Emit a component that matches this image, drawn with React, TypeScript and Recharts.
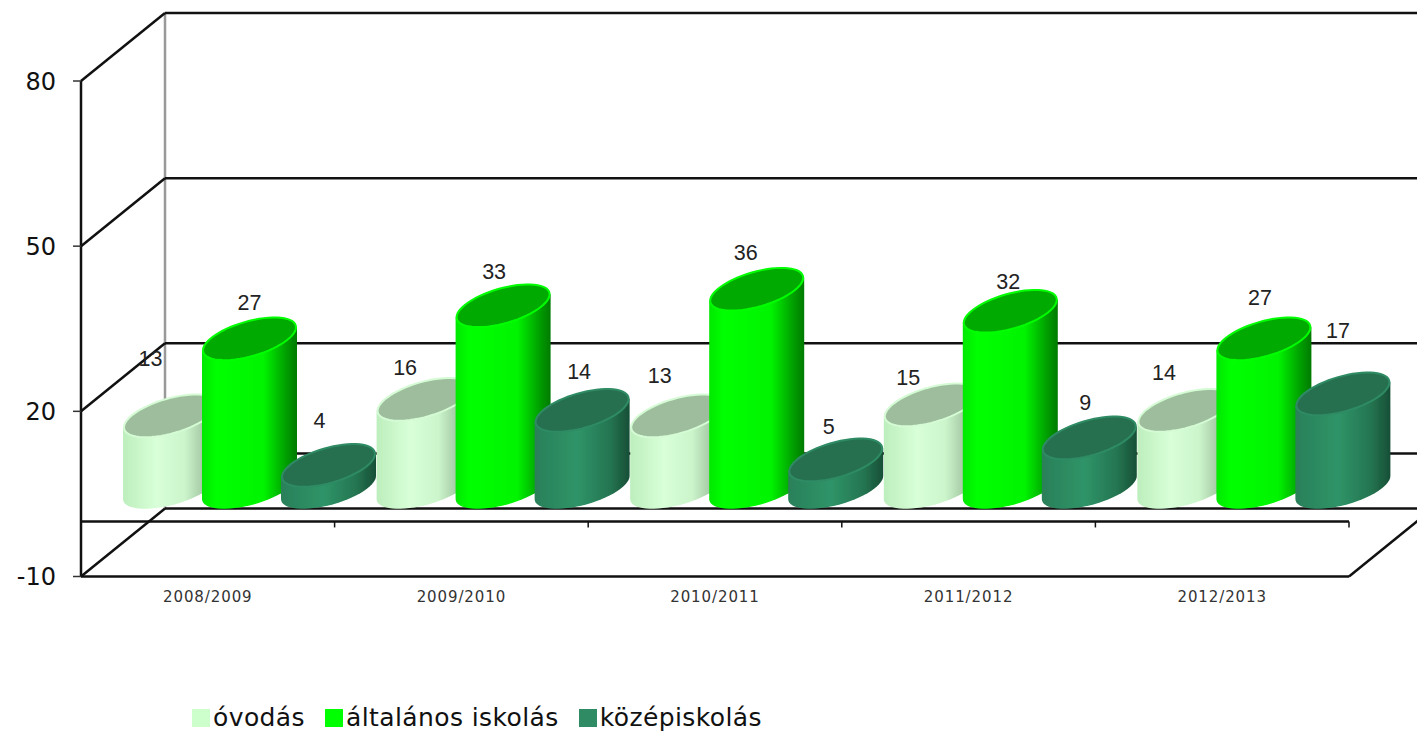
import { BarChart, Bar, XAxis, YAxis, Legend, LabelList, usePlotArea } from "recharts"

const years = ["2008/2009", "2009/2010", "2010/2011", "2011/2012", "2012/2013"]
const ovodas = [13, 16, 13, 15, 14]
const altalanos = [27, 33, 36, 32, 27]
const kozep = [4, 14, 5, 9, 17]
const yDomain = [-10, 80]
const yTicks = [-10, 20, 50, 80]

const data = years.map((year, i) => ({
  year,
  ovodas: ovodas[i],
  altalanos: altalanos[i],
  kozep: kozep[i],
}))

// the labels were dragged by hand in the original, so each one has its own nudge
const ovodasNudge = [[-20, -56], [-19, -30], [-18, -39], [-23, -26], [-21, -36]]
const altalanosNudge = [[0, -34], [-9, -32], [-11, -35], [-2, -28], [-4, -39]]
const kozepNudge = [[-9, -43], [-3, -37], [-7, -32], [-4, -34], [-5, -62]]

const DEPTH_X = 84
const DEPTH_Y = 68
const BAR_DX = 42
const BAR_DY = -34
const SKEW = -11.5
const MINOR = 18

function ellipsePath(cx: number, cy: number, a: number) {
  const pts = []
  for (let i = 0; i < 60; i++) {
    const t = (i / 60) * Math.PI * 2
    pts.push(`${cx + a * Math.cos(t)},${cy + SKEW * Math.cos(t) + MINOR * Math.sin(t)}`)
  }
  return "M" + pts.join("L") + "Z"
}

function bodyPath(cx: number, top: number, bottom: number, a: number) {
  const pts = [`${cx - a},${top - SKEW}`]
  for (let i = 0; i <= 30; i++) {
    const t = Math.PI - (i / 30) * Math.PI
    pts.push(`${cx + a * Math.cos(t)},${bottom + SKEW * Math.cos(t) + MINOR * Math.sin(t)}`)
  }
  pts.push(`${cx + a},${top + SKEW}`)
  return "M" + pts.join("L") + "Z"
}

function Cylinder({ x, y, width, height, grad, cap, rim }: any) {
  const cx = x + width / 2 + BAR_DX
  const top = y + BAR_DY
  const bottom = y + height + BAR_DY
  const a = width / 2
  return (
    <g filter="url(#soft)">
      <path d={bodyPath(cx, top, bottom, a)} fill={`url(#${grad})`} />
      <path d={ellipsePath(cx, top, a - 1)} fill={cap} stroke={rim} strokeWidth={2} />
    </g>
  )
}

function Frame() {
  const plot = usePlotArea()
  if (!plot) return null
  const left = plot.x
  const right = plot.x + plot.width
  const yOf = (v: number) =>
    plot.y + plot.height - ((v - yDomain[0]) / (yDomain[1] - yDomain[0])) * plot.height
  const backX = left + DEPTH_X
  const line = { stroke: "#111", strokeWidth: 2.5 }
  const step = plot.width / years.length
  return (
    <g>
      <defs>
        <filter id="soft" x="-5%" y="-5%" width="110%" height="110%">
          <feGaussianBlur stdDeviation="0.6" />
        </filter>
        <linearGradient id="gradLight" x1="0" x2="1" y1="0" y2="0">
          <stop offset="0" stopColor="#bdeebd" />
          <stop offset="0.35" stopColor="#d8ffd8" />
          <stop offset="0.65" stopColor="#ccf5cc" />
          <stop offset="0.85" stopColor="#a4c8a4" />
          <stop offset="1" stopColor="#8fb08f" />
        </linearGradient>
        <linearGradient id="gradGreen" x1="0" x2="1" y1="0" y2="0">
          <stop offset="0" stopColor="#00e800" />
          <stop offset="0.15" stopColor="#00ff00" />
          <stop offset="0.65" stopColor="#00f400" />
          <stop offset="0.88" stopColor="#00a000" />
          <stop offset="1" stopColor="#007a00" />
        </linearGradient>
        <linearGradient id="gradDark" x1="0" x2="1" y1="0" y2="0">
          <stop offset="0" stopColor="#2a8059" />
          <stop offset="0.45" stopColor="#2f9468" />
          <stop offset="0.8" stopColor="#247450" />
          <stop offset="1" stopColor="#174f36" />
        </linearGradient>
      </defs>
      {/* back wall and the diagonals to the front */}
      <line x1={backX} x2={backX} y1={yOf(80) - DEPTH_Y} y2={yOf(-10) - DEPTH_Y} stroke="#999" strokeWidth={2.5} />
      {yTicks.map((t) => (
        <g key={t}>
          <line x1={backX} x2={1417} y1={yOf(t) - DEPTH_Y} y2={yOf(t) - DEPTH_Y} {...line} />
          <line x1={left} x2={backX} y1={yOf(t)} y2={yOf(t) - DEPTH_Y} {...line} />
        </g>
      ))}
      <line x1={backX} x2={1417} y1={yOf(0) - DEPTH_Y} y2={yOf(0) - DEPTH_Y} {...line} />
      <line x1={right} x2={right + DEPTH_X} y1={yOf(-10)} y2={yOf(-10) - DEPTH_Y} {...line} />
      {/* zero line on the front edge with its category ticks */}
      <line x1={left} x2={right} y1={yOf(0)} y2={yOf(0)} {...line} />
      {years.map((year, i) => (
        <line
          key={year}
          x1={left + step * (i + 1)}
          x2={left + step * (i + 1)}
          y1={yOf(0)}
          y2={yOf(0) + 6}
          stroke="#111"
          strokeWidth={1.5}
        />
      ))}
    </g>
  )
}

function labelFor(nudge: number[][]) {
  return (props: any) => {
    const { x, y, width, value, index } = props
    return (
      <text
        x={x + width / 2 + BAR_DX + nudge[index][0]}
        y={y + BAR_DY + nudge[index][1]}
        textAnchor="middle"
        dominantBaseline="middle"
        fontFamily="Liberation Sans"
        fontSize={21.5}
        fill="#222"
      >
        {value}
      </text>
    )
  }
}

function LegendRow({ payload }: any) {
  return (
    <div style={{ display: "flex", alignItems: "center", fontFamily: "DejaVu Sans", fontSize: 25, letterSpacing: 0.4, color: "#111" }}>
      {(payload || []).map((item: any) => (
        <span key={item.value} style={{ display: "flex", alignItems: "center", marginRight: 20 }}>
          <span style={{ width: 18, height: 18, background: item.color, marginRight: 3 }} />
          {item.value}
        </span>
      ))}
    </div>
  )
}

export default function App() {
  return (
    <div style={{ position: "absolute", left: 0, top: 0, width: 1417, height: 731, background: "#fff" }}>
      <BarChart
        width={1417}
        height={731}
        data={data}
        margin={{ top: 81, right: 68, bottom: 84.5, left: 0 }}
        barCategoryGap={0}
        barGap={-16}
        barSize={95}
      >
        <Frame />
        <XAxis
          dataKey="year"
          tickLine={false}
          height={40}
          axisLine={{ stroke: "#111", strokeWidth: 2.5 }}
          tick={{ fontFamily: "DejaVu Sans", fontSize: 15, letterSpacing: 0.9, fill: "#333" }}
          tickMargin={9}
          interval={0}
        />
        <YAxis
          width={81}
          domain={yDomain}
          ticks={yTicks}
          axisLine={{ stroke: "#111", strokeWidth: 2.5 }}
          tickLine={{ stroke: "#333", strokeWidth: 1.5 }}
          tickSize={8}
          tickMargin={17}
          tick={{ fontFamily: "DejaVu Sans", fontSize: 24, fill: "#111" }}
        />
        <Legend
          content={<LegendRow />}
          itemSorter={null}
          wrapperStyle={{ position: "absolute", left: 192, top: 703, width: 800, height: 30 }}
        />
        <Bar
          dataKey="ovodas"
          name="óvodás"
          fill="#ccffcc"
          isAnimationActive={false}
          shape={(p: any) => <Cylinder {...p} grad="gradLight" cap="#9dbd9d" rim="#d4fbd4" />}
        >
          <LabelList content={labelFor(ovodasNudge)} />
        </Bar>
        <Bar
          dataKey="altalanos"
          name="általános iskolás"
          fill="#00ff00"
          isAnimationActive={false}
          shape={(p: any) => <Cylinder {...p} grad="gradGreen" cap="#00aa00" rim="#00ff00" />}
        >
          <LabelList content={labelFor(altalanosNudge)} />
        </Bar>
        <Bar
          dataKey="kozep"
          name="középiskolás"
          fill="#2e8b63"
          isAnimationActive={false}
          shape={(p: any) => <Cylinder {...p} grad="gradDark" cap="#277050" rim="#2e8b63" />}
        >
          <LabelList content={labelFor(kozepNudge)} />
        </Bar>
      </BarChart>
    </div>
  )
}
